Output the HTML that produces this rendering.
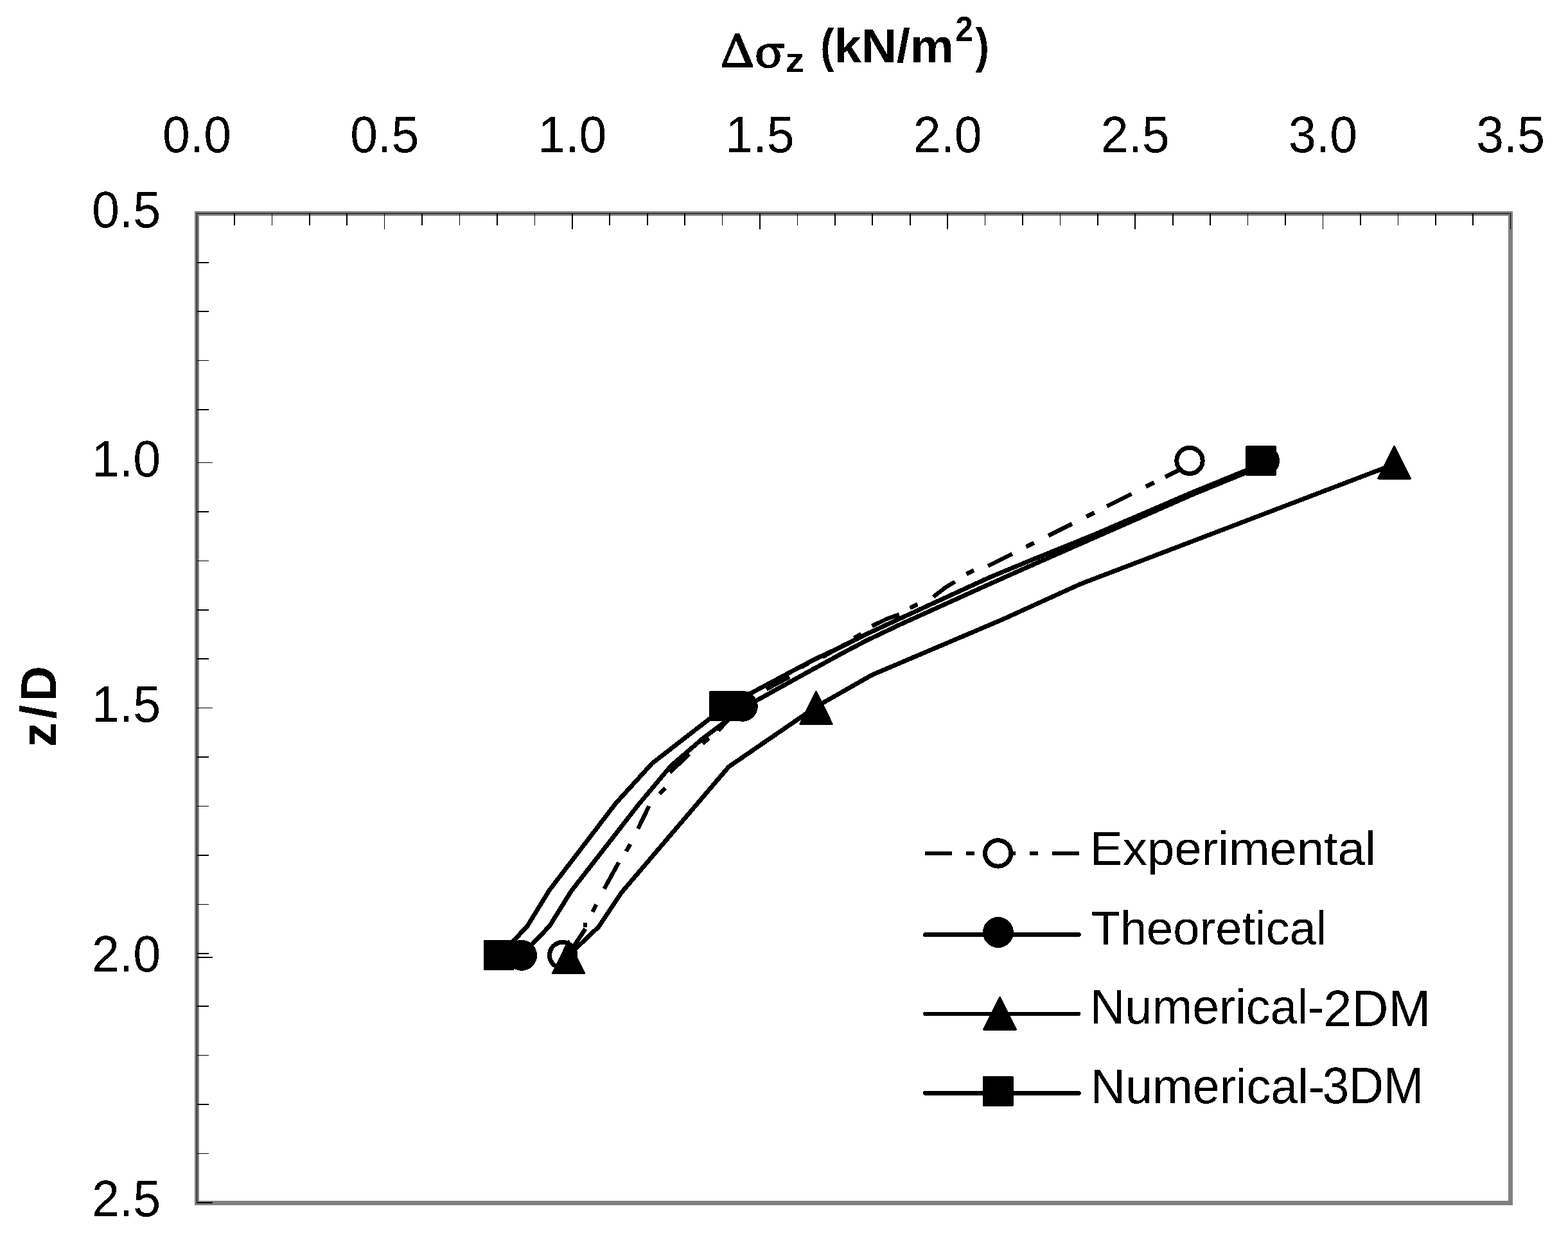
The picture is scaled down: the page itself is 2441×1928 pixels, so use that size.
<!DOCTYPE html><html><head><meta charset="utf-8"><title>Chart</title><style>html,body{margin:0;padding:0;background:#fff;}body{width:2441px;height:1928px;overflow:hidden;}svg{display:block;}text{font-family:"Liberation Sans",Arial,sans-serif;}</style></head><body>
<svg width="2441" height="1928" viewBox="0 0 2441 1928" shape-rendering="crispEdges">
<rect x="0" y="0" width="2441" height="1928" fill="#fff"/>
<defs><filter id="bin" x="0" y="0" width="100%" height="100%" color-interpolation-filters="sRGB"><feComponentTransfer><feFuncA type="discrete" tableValues="0 1"/></feComponentTransfer></filter></defs>
<g filter="url(#bin)" fill="#000">
<text stroke="#000" stroke-width="3" stroke-linejoin="round" style='font-family:"Noto Serif CJK SC","Liberation Serif",serif' font-size="69.29" font-weight="normal" transform="translate(1121.85,103.90) scale(1.0977,1)">Δ</text>
<text stroke="#000" stroke-width="3" stroke-linejoin="round" style='font-family:"Noto Serif CJK SC","Liberation Serif",serif' font-size="65.29" font-weight="normal" transform="translate(1175.85,103.55) scale(1.0956,1)">σ</text>
<text style='font-family:"Liberation Sans",Arial,sans-serif' font-size="51.87" font-weight="bold" transform="translate(1222.80,112.15) scale(1.1364,1)">z</text>
<text style='font-family:"Liberation Sans",Arial,sans-serif' font-size="74.69" font-weight="bold" transform="translate(1277.25,97.35) scale(0.8557,1)">(</text>
<text style='font-family:"Liberation Sans",Arial,sans-serif' font-size="73.82" font-weight="bold" transform="translate(1298.45,96.75) scale(1.0310,1)">kN/m</text>
<text style='font-family:"Liberation Sans",Arial,sans-serif' font-size="54.65" font-weight="bold" transform="translate(1487.35,64.35) scale(0.9050,1)">2</text>
<text style='font-family:"Liberation Sans",Arial,sans-serif' font-size="75.33" font-weight="bold" transform="translate(1518.50,97.00) scale(0.8571,1)">)</text>
<text style='font-family:"Liberation Sans",Arial,sans-serif;letter-spacing:5.30px' font-size="77.27" font-weight="bold" transform="translate(87.25,1097.60) rotate(-90) scale(1.0000,1)" text-anchor="middle">z/D</text>
<text style='font-family:"Liberation Sans",Arial,sans-serif' font-size="74.69" font-weight="normal" transform="translate(1696.75,1347.35) scale(1.0215,1)">Experimental</text>
<text style='font-family:"Liberation Sans",Arial,sans-serif' font-size="74.95" font-weight="normal" transform="translate(1698.65,1470.55) scale(0.9887,1)">Theoretical</text>
<text style='font-family:"Liberation Sans",Arial,sans-serif' font-size="75.73" font-weight="normal" transform="translate(1697.10,1594.35) scale(0.9949,1)">Numerical-</text>
<text style='font-family:"Liberation Sans",Arial,sans-serif' font-size="79.54" font-weight="normal" transform="translate(2060.55,1597.75) scale(0.9930,1)">2DM</text>
<text style='font-family:"Liberation Sans",Arial,sans-serif' font-size="76.00" font-weight="normal" transform="translate(1697.60,1717.60) scale(0.9922,1)">Numerical-</text>
<text style='font-family:"Liberation Sans",Arial,sans-serif' font-size="79.83" font-weight="normal" transform="translate(2058.75,1718.20) scale(0.9327,1)">3DM</text>
<text style='font-family:"Liberation Sans",Arial,sans-serif' font-size="79.30" font-weight="normal" transform="translate(253.10,236.60) scale(0.9700,1)">0.0</text>
<text style='font-family:"Liberation Sans",Arial,sans-serif' font-size="79.30" font-weight="normal" transform="translate(545.25,236.60) scale(0.9700,1)">0.5</text>
<text style='font-family:"Liberation Sans",Arial,sans-serif' font-size="79.30" font-weight="normal" transform="translate(837.40,236.60) scale(0.9700,1)">1.0</text>
<text style='font-family:"Liberation Sans",Arial,sans-serif' font-size="79.30" font-weight="normal" transform="translate(1129.55,236.60) scale(0.9700,1)">1.5</text>
<text style='font-family:"Liberation Sans",Arial,sans-serif' font-size="79.30" font-weight="normal" transform="translate(1421.70,236.60) scale(0.9700,1)">2.0</text>
<text style='font-family:"Liberation Sans",Arial,sans-serif' font-size="79.30" font-weight="normal" transform="translate(1713.85,236.60) scale(0.9700,1)">2.5</text>
<text style='font-family:"Liberation Sans",Arial,sans-serif' font-size="79.30" font-weight="normal" transform="translate(2006.00,236.60) scale(0.9700,1)">3.0</text>
<text style='font-family:"Liberation Sans",Arial,sans-serif' font-size="79.30" font-weight="normal" transform="translate(2298.15,236.60) scale(0.9700,1)">3.5</text>
<text style='font-family:"Liberation Sans",Arial,sans-serif' font-size="79.30" font-weight="normal" transform="translate(143.00,354.10) scale(0.9730,1)">0.5</text>
<text style='font-family:"Liberation Sans",Arial,sans-serif' font-size="79.30" font-weight="normal" transform="translate(143.00,742.00) scale(0.9730,1)">1.0</text>
<text style='font-family:"Liberation Sans",Arial,sans-serif' font-size="79.30" font-weight="normal" transform="translate(143.00,1124.10) scale(0.9730,1)">1.5</text>
<text style='font-family:"Liberation Sans",Arial,sans-serif' font-size="79.30" font-weight="normal" transform="translate(143.00,1512.50) scale(0.9730,1)">2.0</text>
<text style='font-family:"Liberation Sans",Arial,sans-serif' font-size="79.30" font-weight="normal" transform="translate(143.00,1894.30) scale(0.9730,1)">2.5</text>
</g>
<rect x="306.5" y="332.5" width="2045" height="1541" fill="none" stroke="#808080" stroke-width="7"/>
<line x1="306.5" y1="332.5" x2="2352" y2="332.5" stroke="#000" stroke-width="1.3"/>
<line x1="306.5" y1="332" x2="306.5" y2="1874" stroke="#000" stroke-width="1.3"/>
<path d="M364.9 332V350.7 M423.4 332V350.7 M481.8 332V350.7 M540.2 332V350.7 M598.6 332V357 M657.1 332V350.7 M715.5 332V350.7 M773.9 332V350.7 M832.4 332V350.7 M890.8 332V357 M949.2 332V350.7 M1007.7 332V350.7 M1066.1 332V350.7 M1124.5 332V350.7 M1182.9 332V357 M1241.4 332V350.7 M1299.8 332V350.7 M1358.2 332V350.7 M1416.7 332V350.7 M1475.1 332V357 M1533.5 332V350.7 M1592.0 332V350.7 M1650.4 332V350.7 M1708.8 332V350.7 M1767.2 332V357 M1825.7 332V350.7 M1884.1 332V350.7 M1942.5 332V350.7 M2001.0 332V350.7 M2059.4 332V357 M2117.8 332V350.7 M2176.3 332V350.7 M2234.7 332V350.7 M2293.1 332V350.7 M2351.5 332V357 M306 720.4H331 M306 1102.5H331 M306 1490.9H331 M306 1872.7H331 M306 408.8H324.7 M306 485.1H324.7 M306 561.4H324.7 M306 637.7H324.7 M306 796.9H324.7 M306 873.3H324.7 M306 949.8H324.7 M306 1026.2H324.7 M306 1179.2H324.7 M306 1255.6H324.7 M306 1332.1H324.7 M306 1408.5H324.7 M306 1485.0H324.7 M306 1566.8H324.7 M306 1643.3H324.7 M306 1719.8H324.7 M306 1796.3H324.7" stroke="#000" stroke-width="1.6" fill="none"/>
<g fill="none" stroke="#000" stroke-width="6.5" stroke-linejoin="round"><polyline points="1852.0,723.7 1814.0,742.8"/><polyline points="1796.6,751.6 1784.1,757.8"/><polyline points="1761.8,769.1 1723.4,788.4"/><polyline points="1703.7,798.3 1691.2,804.6"/><polyline points="1668.9,815.8 1632.2,834.2"/><polyline points="1609.9,845.4 1597.4,851.7"/><polyline points="1575.9,862.5 1538.4,881.4"/><polyline points="1516.2,888.2 1504.6,894.0"/><polyline points="1486.7,906.0 1473.5,913.7 1453.0,929.5"/><polyline points="1428.4,941.2 1416.6,946.8"/><polyline points="1399.8,957.0 1380.0,964.0 1357.6,975.0"/><polyline points="1340.6,987.2 1329.4,993.8"/><polyline points="1317.0,1002.5 1280.5,1023.3"/><polyline points="1258.6,1032.7 1247.4,1039.3"/><polyline points="1229.0,1054.3 1193.0,1073.5"/><polyline points="1174.0,1086.0 1137.0,1106.0"/><polyline points="1142.0,1112.0 1118.0,1138.0"/><polyline points="1103.6,1149.6 1093.6,1158.0"/><polyline points="1073.0,1174.0 1043.0,1203.0"/><polyline points="1036.0,1227.4 1026.8,1236.6"/><polyline points="1010.3,1255.4 993.2,1290.6"/><polyline points="981.2,1314.7 974.8,1325.9"/><polyline points="963.2,1343.0 940.7,1384.2"/><polyline points="928.3,1408.6 922.3,1420.2"/><polyline points="911.1,1437.0 911.1,1444.0"/><polyline points="911.3,1446.5 888.0,1481.7"/></g>
<circle cx="1852" cy="717.4" r="20.2" fill="#fff" stroke="#000" stroke-width="7"/>
<circle cx="1145" cy="1099.7" r="20.2" fill="#fff" stroke="#000" stroke-width="7"/>
<circle cx="875.7" cy="1487.6" r="20.2" fill="#fff" stroke="#000" stroke-width="7"/>
<polyline points="1968.0,722.5 1938.8,736.5 1857.4,769.8 1700.0,839.0 1608.0,879.5 1538.7,910.4 1400.0,973.2 1348.0,998.0 1311.0,1017.5 1249.2,1051.3 1155.8,1103.2 1122.8,1128.5 1093.3,1150.7 1044.4,1192.8 994.0,1253.0 889.2,1387.9 855.5,1442.2 812.0,1487.8" fill="none" stroke="#000" stroke-width="7" stroke-linejoin="round" stroke-linecap="round"/>
<circle cx="1968" cy="717.5" r="24" fill="#000"/>
<circle cx="1155.8" cy="1099.8" r="24" fill="#000"/>
<circle cx="812" cy="1487.8" r="24" fill="#000"/>
<polyline points="2170.5,723.0 1682.0,909.5 1560.0,965.0 1357.7,1051.0 1270.5,1100.7 1134.5,1194.1 967.5,1390.0 931.7,1443.6 885.0,1488.0" fill="none" stroke="#000" stroke-width="7" stroke-linejoin="round" stroke-linecap="round"/>
<polygon points="2170.5,695.1 2195.2,745.1 2145.8,745.1" fill="#000" stroke="#000" stroke-width="3.0" stroke-linejoin="round"/>
<polygon points="1270.5,1077.3 1295.2,1127.3 1245.8,1127.3" fill="#000" stroke="#000" stroke-width="3.0" stroke-linejoin="round"/>
<polygon points="885.0,1465.7 909.7,1515.7 860.3,1515.7" fill="#000" stroke="#000" stroke-width="3.0" stroke-linejoin="round"/>
<polyline points="1963.0,721.0 1938.8,733.0 1857.4,766.3 1700.0,834.0 1608.0,871.2 1538.7,900.0 1400.0,963.8 1348.0,988.0 1311.0,1006.7 1270.0,1025.9 1249.2,1036.7 1127.8,1101.5 1015.0,1189.0 958.5,1251.2 855.5,1386.0 820.9,1442.2 776.5,1490.0" fill="none" stroke="#000" stroke-width="7" stroke-linejoin="round" stroke-linecap="round"/>
<rect x="1939.7" y="694.4" width="46.6" height="46.2" rx="1.5" fill="#000" stroke="#000" stroke-width="1.2"/>
<rect x="1104.5" y="1076.7" width="46.6" height="46.2" rx="1.5" fill="#000" stroke="#000" stroke-width="1.2"/>
<rect x="753.2" y="1464.7" width="46.6" height="46.2" rx="1.5" fill="#000" stroke="#000" stroke-width="1.2"/>
<line x1="1439.8" y1="1329" x2="1680" y2="1329" stroke="#000" stroke-width="6" stroke-dasharray="42 22 13 22"/>
<circle cx="1553.7" cy="1328.9" r="20.2" fill="#fff" stroke="#000" stroke-width="7"/>
<line x1="1440.5" y1="1455.5" x2="1679.3" y2="1455.5" stroke="#000" stroke-width="7" stroke-linecap="round"/>
<circle cx="1553.9" cy="1452" r="24" fill="#000"/>
<line x1="1440.5" y1="1578.9" x2="1679.3" y2="1578.9" stroke="#000" stroke-width="6.5" stroke-linecap="round"/>
<polygon points="1556.5,1553.2 1581.2,1603.2 1531.8,1603.2" fill="#000" stroke="#000" stroke-width="3.0" stroke-linejoin="round"/>
<line x1="1440.5" y1="1702.4" x2="1679.3" y2="1702.4" stroke="#000" stroke-width="7" stroke-linecap="round"/>
<rect x="1530.6" y="1676.3" width="46.6" height="46.2" rx="1.5" fill="#000" stroke="#000" stroke-width="1.2"/>
</svg></body></html>
